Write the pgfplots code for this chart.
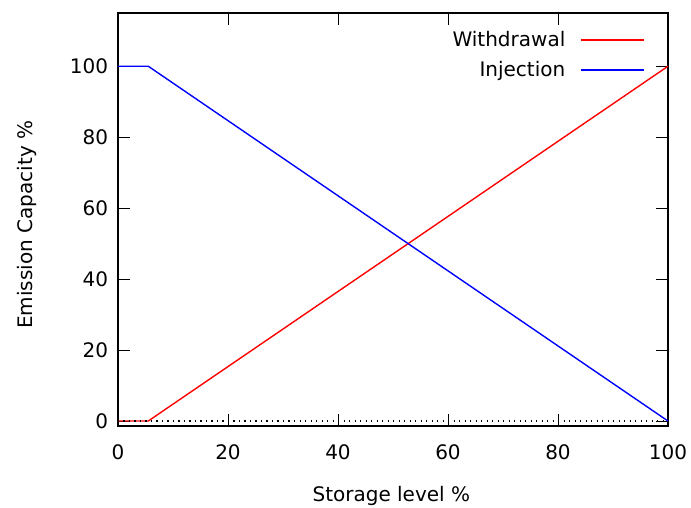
\documentclass[border=0pt]{standalone}
\usepackage{fontspec}
\setmainfont{DejaVu Sans}
\usepackage{pgfplots}
\pgfplotsset{compat=1.18}
\begin{document}
\fontsize{20}{24}\selectfont
\begin{tikzpicture}
\useasboundingbox (-118pt,-82pt) rectangle (573pt,426pt);
\begin{axis}[
  at={(0,0)}, anchor=south west,
  scale only axis, width=550pt, height=413pt,
  xmin=0, xmax=100, ymin=-1.4, ymax=115,
  xtick={0,20,...,100}, ytick={0,20,...,100},
  tick align=inside, major tick length=12pt,
  tick style={black, line width=0.8pt},
  axis line style={black, line width=1.1pt},
  /pgf/number format/assume math mode=true,
  every tick label/.append style={font=\fontsize{20}{24}\selectfont},
  xticklabel style={yshift=-12pt},
  yticklabel style={xshift=-3pt},
  xlabel={Storage level \%},
  ylabel={Emission Capacity \%},
  label style={font=\fontsize{20}{24}\selectfont},
  xlabel style={at={(axis description cs:0.497,-0.17)}, anchor=center},
  ylabel style={at={(axis description cs:-0.165,0.487)}, anchor=center},
  legend plot pos=right,
  legend cell align=right,
  legend style={draw=none, fill=none, at={(axis description cs:0.958,0.962)}, anchor=north east,
    font=\fontsize{20}{24}\selectfont, row sep=8pt, column sep=13pt, inner sep=0pt},
  legend image code/.code={\draw[#1] (0pt,0pt) -- (63pt,0pt);},
]
\addplot[color={rgb,255:red,255;green,0;blue,0}, line width=1.4pt] coordinates {(0,0) (5.5,0) (100,100)};
\addlegendentry{Withdrawal}
\addplot[color={rgb,255:red,0;green,0;blue,255}, line width=1.4pt] coordinates {(0,100) (5.5,100) (100,0)};
\addlegendentry{Injection}
\addplot[black, line width=1.1pt, dash pattern=on 1.2pt off 4.3pt, forget plot] coordinates {(0,0) (100,0)};
\end{axis}
\end{tikzpicture}
\end{document}
